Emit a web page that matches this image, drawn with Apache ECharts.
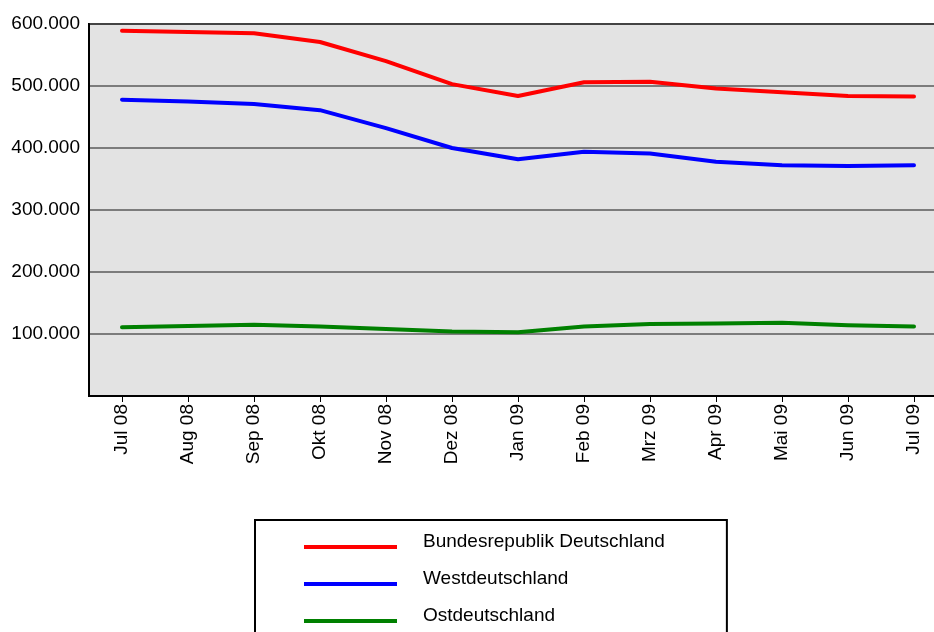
<!DOCTYPE html>
<html><head><meta charset="utf-8">
<script src="https://cdn.jsdelivr.net/npm/echarts@6/dist/echarts.min.js"></script>
<style>html,body{margin:0;padding:0;background:#fff}#c{width:934px;height:632px}</style>
</head><body><div id="c"></div>
<script>
const months = ['Jul 08','Aug 08','Sep 08','Okt 08','Nov 08','Dez 08','Jan 09','Feb 09','Mrz 09','Apr 09','Mai 09','Jun 09','Jul 09'];
const brd = [589000,587000,585000,571000,540000,503000,484000,506000,507000,496000,490000,484000,483000];
const west = [478000,475000,471000,461000,432000,400000,382000,394000,391000,378000,372000,371000,372000];
const ost = [111000,113000,115000,112000,108000,104000,103000,112000,116000,117000,118000,114000,112000];
const seriesNames = ['Bundesrepublik Deutschland','Westdeutschland','Ostdeutschland'];
const colors = ['#ff0000','#0000ff','#008000'];

const font = 'Liberation Sans, Arial, sans-serif';
const chart = echarts.init(document.getElementById('c'));
const fmt = v => v === 0 ? '' : (v/1000).toFixed(0) + '.000';
chart.setOption({
  animation: false,
  textStyle: {fontFamily: font},
  grid: {left: 89, top: 24, width: 858, height: 372, outerBoundsMode: 'none', containLabel: false,
         show: true, backgroundColor: '#e3e3e3', borderColor: '#000', borderWidth: 2},
  xAxis: {
    type: 'category', data: months, boundaryGap: true,
    axisLine: {lineStyle: {color: '#000', width: 2}},
    axisTick: {show: true, alignWithLabel: true, length: 6, lineStyle: {color: '#000', width: 1}},
    axisLabel: {rotate: 90, fontSize: 19, color: '#000', margin: 8, fontFamily: font, interval: 0}
  },
  yAxis: {
    type: 'value', min: 0, max: 600000, interval: 100000,
    axisLine: {show: true, lineStyle: {color: '#000', width: 2}},
    axisTick: {show: false},
    splitLine: {show: true, lineStyle: {color: '#5a5a5a', width: 1.5}},
    axisLabel: {formatter: fmt, fontSize: 19, color: '#000', margin: 9, fontFamily: font, padding: [5, 0, 0, 0]}
  },
  legend: {
    orient: 'vertical', left: 255, top: 520, height: 200,
    padding: [12, 62, 40, 49],
    borderColor: '#000', borderWidth: 2,
    itemWidth: 93, itemHeight: 4, itemGap: 7,
    icon: 'rect',
    data: seriesNames,
    formatter: name => name + '\n ',
    textStyle: {fontSize: 19, color: '#000', fontFamily: font, lineHeight: 11, padding: [0, 0, 0, 21]}
  },
  series: [brd, west, ost].map((d, i) => ({
    name: seriesNames[i], type: 'line', data: d, showSymbol: false, symbol: 'none',
    smooth: false,
    lineStyle: {color: colors[i], width: 4, join: 'round', cap: 'round'}, itemStyle: {color: colors[i]}
  }))
});
</script></body></html>
